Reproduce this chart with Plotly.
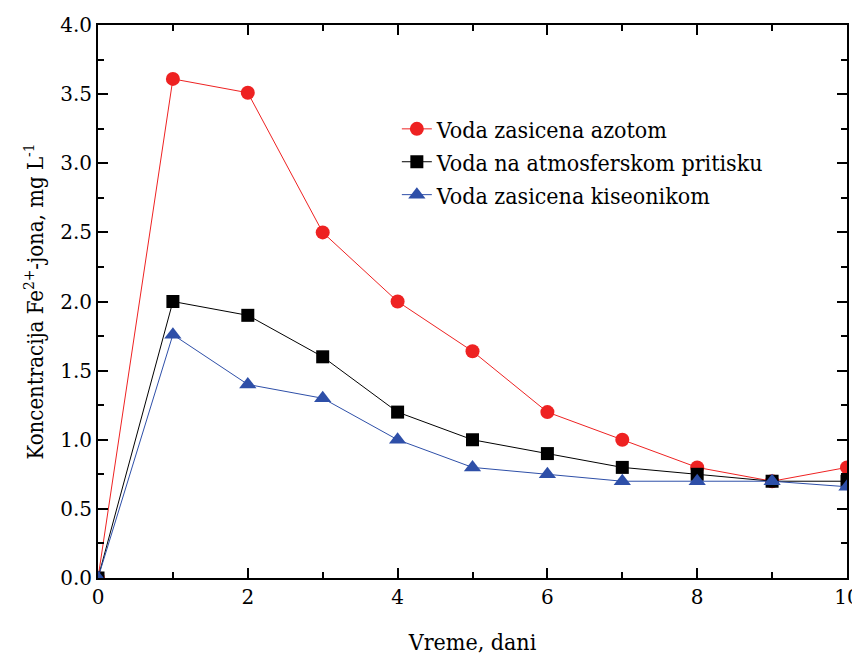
import plotly.graph_objects as go

days = [0, 1, 2, 3, 4, 5, 6, 7, 8, 9, 10]
azot = [0, 3.61, 3.51, 2.5, 2.0, 1.64, 1.2, 1.0, 0.8, 0.7, 0.8]
atmos = [0, 2.0, 1.9, 1.6, 1.2, 1.0, 0.9, 0.8, 0.75, 0.7, 0.7]
kiseonik = [0, 1.76, 1.4, 1.3, 1.0, 0.8, 0.75, 0.7, 0.7, 0.7, 0.66]

names = ["Voda zasicena azotom", "Voda na atmosferskom pritisku", "Voda zasicena kiseonikom"]
colors = ["#ee2222", "#000000", "#2e4fa8"]
symbols = ["circle", "square", "triangle-up"]
sizes = [14, 13, 15]

fig = go.Figure()
for ys, n, c, s, sz in zip([azot, atmos, kiseonik], names, colors, symbols, sizes):
    fig.add_trace(go.Scatter(
        x=days, y=ys, name=n, mode="lines+markers",
        line=dict(color=c, width=1),
        marker=dict(symbol=s, size=sz, color=c),
    ))

font = "DejaVu Serif"
fontL = "DejaVu Serif Condensed"
axis_common = dict(
    showgrid=False, zeroline=False, showline=True, linecolor="black", linewidth=2,
    mirror="ticks", ticks="inside", ticklen=10, tickwidth=2, tickcolor="black",
    automargin=False, tickfont=dict(family=font, size=20, color="black"),
)
fig.update_xaxes(
    range=[0, 10], tick0=0, dtick=2,
    minor=dict(ticks="inside", ticklen=6, tickwidth=1.5, dtick=1, tickcolor="black"),
    title=dict(text="Vreme, dani", font=dict(family=fontL, size=23, color="black"), standoff=30),
    **axis_common,
)
fig.update_yaxes(
    range=[0, 4.0], tick0=0, dtick=0.5, tickformat=".1f",
    minor=dict(ticks="inside", ticklen=6, tickwidth=1.5, dtick=0.25, tickcolor="black"),
    title=dict(text="Koncentracija Fe<sup>2+</sup>-jona, mg L<sup>-1</sup>",
               font=dict(family=fontL, size=22, color="black"), standoff=10),
    **axis_common,
)
fig.update_layout(
    width=860, height=647,
    margin=dict(l=90, r=21, t=17, b=77),
    plot_bgcolor="white", paper_bgcolor="white",
    legend=dict(x=0.399, y=0.851, xanchor="left", yanchor="top",
                font=dict(family=fontL, size=23, color="black"),
                bgcolor="rgba(0,0,0,0)", tracegroupgap=0),
    showlegend=True,
)
fig.write_html("out.html")
